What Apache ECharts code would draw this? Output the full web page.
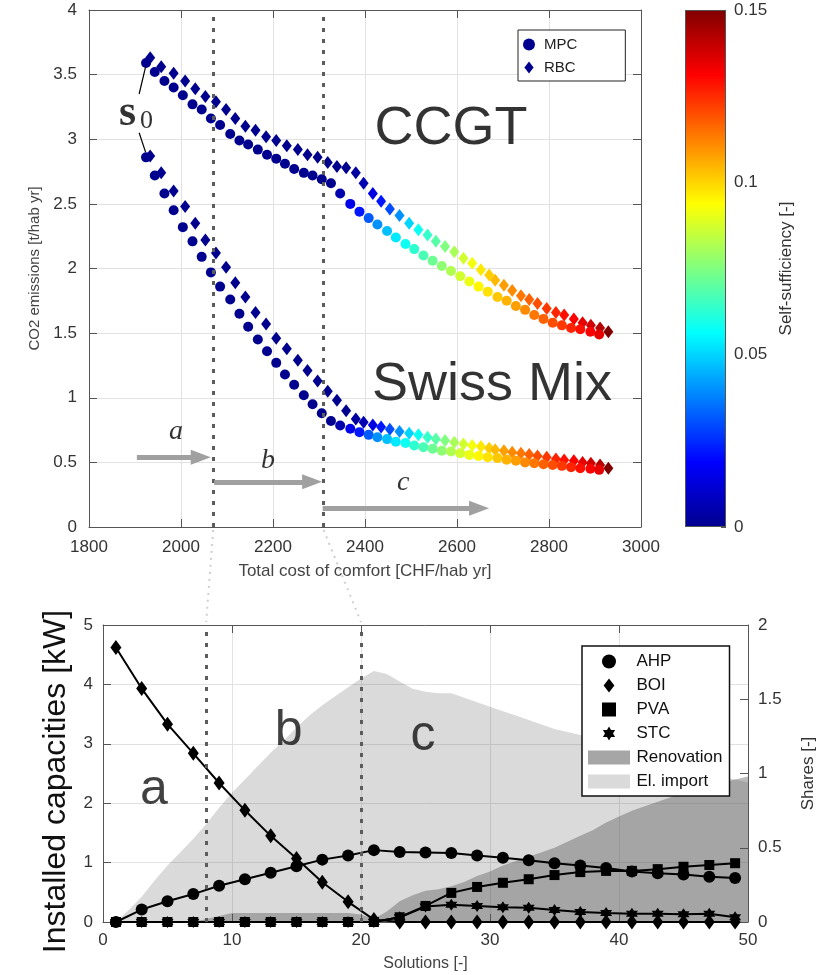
<!DOCTYPE html>
<html>
<head>
<meta charset="utf-8">
<title>Cost vs CO2 emissions and installed capacities</title>
<script src="https://cdn.jsdelivr.net/npm/echarts@6.0.0/dist/echarts.min.js"></script>
<style>
  html, body { margin: 0; padding: 0; background: #fff; }
  #main { width: 820px; height: 975px; }
</style>
</head>
<body>
<div id="main"></div>
<script>
// top panel: 50 solutions per controller, cost [CHF/hab yr] vs CO2 [t/hab yr]
const costMPC = [1924, 1943, 1964, 1984, 2004, 2025, 2045, 2065, 2085, 2107,
  2127, 2146, 2167, 2187, 2207, 2226, 2246, 2267, 2286, 2306,
  2326, 2346, 2368, 2388, 2408, 2427, 2448, 2467, 2488, 2507,
  2527, 2547, 2567, 2587, 2607, 2627, 2647, 2667, 2688, 2708,
  2728, 2748, 2768, 2788, 2808, 2828, 2848, 2868, 2890, 2909];
const costRBC = [1933, 1957, 1984, 2009, 2031, 2053, 2076, 2098, 2118, 2140,
  2162, 2185, 2207, 2230, 2254, 2275, 2297, 2319, 2339, 2359,
  2380, 2397, 2417, 2435, 2454, 2475, 2496, 2516, 2536, 2554,
  2574, 2594, 2614, 2633, 2652, 2670, 2683, 2702, 2720, 2739,
  2757, 2775, 2795, 2815, 2833, 2854, 2873, 2891, 2911, 2929];
const ccgtMPC = [3.59, 3.52, 3.45, 3.40, 3.34, 3.27, 3.23, 3.16, 3.11, 3.04,
  2.99, 2.96, 2.92, 2.88, 2.85, 2.81, 2.77, 2.74, 2.72, 2.69,
  2.66, 2.58, 2.50, 2.44, 2.39, 2.34, 2.29, 2.24, 2.19, 2.15,
  2.10, 2.06, 2.02, 1.98, 1.94, 1.90, 1.86, 1.82, 1.78, 1.75,
  1.71, 1.68, 1.64, 1.61, 1.58, 1.56, 1.54, 1.53, 1.51, 1.49];
const ccgtRBC = [3.63, 3.56, 3.51, 3.45, 3.39, 3.33, 3.29, 3.23, 3.16, 3.10,
  3.07, 3.02, 2.99, 2.95, 2.92, 2.88, 2.86, 2.82, 2.79, 2.78,
  2.74, 2.66, 2.58, 2.52, 2.46, 2.41, 2.35, 2.30, 2.26, 2.21,
  2.17, 2.13, 2.08, 2.04, 1.99, 1.95, 1.91, 1.87, 1.83, 1.79,
  1.76, 1.73, 1.69, 1.66, 1.64, 1.61, 1.58, 1.56, 1.54, 1.51];
const swissMPC = [2.86, 2.72, 2.58, 2.45, 2.32, 2.21, 2.09, 1.97, 1.86, 1.76,
  1.65, 1.55, 1.45, 1.36, 1.27, 1.18, 1.10, 1.02, 0.95, 0.88,
  0.82, 0.785, 0.76, 0.734, 0.713, 0.695, 0.68, 0.66, 0.65, 0.63,
  0.617, 0.605, 0.59, 0.584, 0.571, 0.558, 0.55, 0.54, 0.533, 0.52,
  0.512, 0.50, 0.494, 0.486, 0.48, 0.473, 0.463, 0.455, 0.45, 0.442];
const swissRBC = [2.87, 2.74, 2.60, 2.48, 2.35, 2.22, 2.12, 2.01, 1.89, 1.78,
  1.66, 1.57, 1.46, 1.38, 1.29, 1.21, 1.13, 1.05, 0.98, 0.90,
  0.835, 0.81, 0.79, 0.773, 0.757, 0.739, 0.726, 0.713, 0.695, 0.68,
  0.669, 0.656, 0.643, 0.63, 0.622, 0.61, 0.597, 0.589, 0.579, 0.571,
  0.56, 0.55, 0.54, 0.527, 0.519, 0.512, 0.50, 0.494, 0.48, 0.455];
// self-sufficiency [-] -> jet colour
const selfSuffMPC = [0, 0, 0, 0, 0, 0, 0, 0, 0, 0,
  0, 0, 0, 0, 0, 0, 0, 0, 0, 0,
  0, 0.005, 0.015, 0.022, 0.032, 0.04, 0.047, 0.053, 0.058, 0.063,
  0.067, 0.072, 0.077, 0.082, 0.087, 0.091, 0.095, 0.098, 0.102, 0.105,
  0.108, 0.111, 0.114, 0.117, 0.12, 0.123, 0.126, 0.129, 0.132, 0.135];
const selfSuffRBC = [0, 0, 0, 0, 0, 0, 0, 0, 0, 0,
  0, 0, 0, 0, 0, 0, 0, 0, 0, 0,
  0.003, 0.006, 0.014, 0.022, 0.03, 0.04, 0.05, 0.058, 0.064, 0.069,
  0.075, 0.081, 0.087, 0.092, 0.097, 0.101, 0.104, 0.108, 0.111, 0.114,
  0.117, 0.12, 0.123, 0.126, 0.129, 0.132, 0.135, 0.138, 0.142, 0.15];

// bottom panel: installed capacities [kW] (every 2nd solution) and shares [-]
const solMarked = [1, 3, 5, 7, 9, 11, 13, 15, 17, 19, 21, 23, 25, 27, 29, 31, 33, 35, 37, 39, 41, 43, 45, 47, 49];
const capAHP = [0, 0.21, 0.35, 0.47, 0.61, 0.72, 0.83, 0.94, 1.05, 1.12, 1.21, 1.18, 1.17,
  1.16, 1.12, 1.08, 1.04, 0.99, 0.95, 0.91, 0.85, 0.82, 0.80, 0.76, 0.74];
const capBOI = [4.62, 3.93, 3.33, 2.84, 2.34, 1.88, 1.45, 1.07, 0.67, 0.34, 0.04, 0, 0,
  0, 0, 0, 0, 0, 0, 0, 0, 0, 0, 0, 0];
const capPVA = [0, 0, 0, 0, 0, 0, 0, 0, 0, 0, 0, 0.08, 0.27,
  0.49, 0.59, 0.66, 0.72, 0.79, 0.84, 0.86, 0.86, 0.89, 0.93, 0.96, 0.99];
const capSTC = [0, 0, 0, 0, 0, 0, 0, 0, 0, 0, 0, 0.08, 0.26,
  0.29, 0.27, 0.25, 0.24, 0.2, 0.17, 0.15, 0.14, 0.14, 0.13, 0.14, 0.08];
const solAll = [1, 2, 3, 4, 5, 6, 7, 8, 9, 10, 11, 12, 13, 14, 15, 16, 17, 18, 19, 20, 21, 22, 23, 24, 25,
  26, 27, 28, 29, 30, 31, 32, 33, 34, 35, 36, 37, 38, 39, 40, 41, 42, 43, 44, 45, 46, 47, 48, 49, 50];
const shareImport = [0, 0.08, 0.17, 0.28, 0.38, 0.47, 0.56, 0.66, 0.77, 0.87,
  0.96, 1.05, 1.14, 1.22, 1.31, 1.39, 1.46, 1.52, 1.58, 1.64,
  1.69, 1.67, 1.62, 1.57, 1.55, 1.54, 1.54, 1.51, 1.48, 1.45,
  1.42, 1.39, 1.36, 1.33, 1.30, 1.28, 1.26, 1.23, 1.21, 1.18,
  1.15, 1.13, 1.10, 1.08, 1.05, 1.03, 1.00, 0.98, 0.96, 0.94];
const shareRenovation = [0, 0, 0, 0, 0, 0, 0, 0.02, 0.04, 0.06,
  0.06, 0.06, 0.06, 0.06, 0.06, 0.06, 0.06, 0.06, 0.06, 0.05,
  0.02, 0.07, 0.14, 0.18, 0.21, 0.22, 0.24, 0.27, 0.31, 0.34,
  0.38, 0.41, 0.44, 0.47, 0.50, 0.54, 0.58, 0.62, 0.67, 0.71,
  0.75, 0.78, 0.81, 0.84, 0.87, 0.89, 0.91, 0.94, 0.96, 0.98];

const font = "'Liberation Sans', Arial, Helvetica, sans-serif";
const serif = "'Liberation Serif', 'DejaVu Serif', serif";
const jet = ['#00008f', '#0000ff', '#0080ff', '#00ffff', '#80ff80', '#ffff00', '#ff8000', '#ff0000', '#800000'];
const navy = '#00008f';
const axisCol = '#555';
const textCol = '#333';
const starPath = 'path://M100,0L128.9,50L186.6,50L157.7,100L186.6,150L128.9,150L100,200L71.1,150L13.4,150L42.3,100L13.4,50L71.1,50Z';
const diamondPath = 'path://M5,0L10,6.5L5,13L0,6.5Z';
const squarePath = 'path://M0,0H1V1H0Z';
const boxPath = 'path://M0,0H3V1H0Z';

const zip3 = (xs, ys, cs) => xs.map((x, i) => [x, ys[i], cs[i]]);
const zip2 = (xs, ys) => xs.map((x, i) => [x, ys[i]]);

// 基本的坐标轴样式
function valueAxis(extra) {
  return Object.assign({
    type: 'value',
    axisLine: { show: true, onZero: false, lineStyle: { color: axisCol, width: 1 } },
    axisTick: { show: true, inside: true, length: 8, lineStyle: { color: axisCol } },
    axisLabel: { color: textCol, fontSize: 17, fontFamily: font },
    splitLine: { show: false },
    nameTextStyle: { color: textCol, fontFamily: font }
  }, extra);
}
const grey = { show: true, lineStyle: { color: '#e2e2e2', width: 1 } };
const dotted = { type: [4, 7], width: 3, color: '#5c5c5c', cap: 'butt' };
const arrowLine = { type: 'solid', width: 5, color: '#a0a0a0' };
const thin = { type: 'solid', width: 1.2, color: '#000' };
const plain = v => String(v);

function arrow(x0, x1, y) {
  return [
    { coord: [x0, y], symbol: 'none', lineStyle: arrowLine },
    { coord: [x1, y], symbol: 'triangle', symbolSize: [15, 20], lineStyle: arrowLine }
  ];
}

const chart = echarts.init(document.getElementById('main'));

const option = {
  animation: false,
  backgroundColor: '#fff',
  textStyle: { fontFamily: font },
  grid: [
    { left: 89, top: 10, width: 552, height: 517, outerBoundsMode: 'none' },
    { left: 103, top: 625, width: 645, height: 297, outerBoundsMode: 'none' },
    { left: 685, top: 10, width: 41, height: 517, outerBoundsMode: 'none' }
  ],
  xAxis: [
    valueAxis({ gridIndex: 0, min: 1800, max: 3000, interval: 200, splitLine: grey,
      axisLabel: { color: textCol, fontSize: 17, margin: 12, formatter: plain },
      name: 'Total cost of comfort [CHF/hab yr]', nameLocation: 'middle', nameGap: 36,
      nameTextStyle: { color: '#444', fontSize: 17 } }),
    valueAxis({ gridIndex: 0, position: 'top', min: 1800, max: 3000, interval: 200, axisLabel: { show: false } }),
    valueAxis({ gridIndex: 1, min: 0, max: 50, interval: 10, splitLine: grey,
      axisLabel: { color: textCol, fontSize: 17, margin: 10 },
      name: 'Solutions [-]', nameLocation: 'middle', nameGap: 34,
      nameTextStyle: { color: '#444', fontSize: 16 } }),
    valueAxis({ gridIndex: 1, position: 'top', min: 0, max: 50, interval: 10, axisLabel: { show: false } }),
    { type: 'category', gridIndex: 2, data: ['cb'], show: false }
  ],
  yAxis: [
    valueAxis({ gridIndex: 0, min: 0, max: 4, interval: 0.5, splitLine: grey,
      axisLabel: { color: textCol, fontSize: 17, margin: 12 },
      name: 'CO2 emissions [t/hab yr]', nameLocation: 'middle', nameGap: 44, nameRotate: 90,
      nameTextStyle: { color: '#444', fontSize: 15 } }),
    valueAxis({ gridIndex: 0, position: 'right', min: 0, max: 4, interval: 0.5, axisLabel: { show: false } }),
    valueAxis({ gridIndex: 1, min: 0, max: 5, interval: 1, splitLine: grey,
      axisLabel: { color: textCol, fontSize: 17, margin: 10 },
      name: 'Installed capacities [kW]', nameLocation: 'middle', nameGap: 28, nameRotate: 90,
      nameTextStyle: { color: '#111', fontSize: 32, padding: [0, 16, 0, 0] } }),
    valueAxis({ gridIndex: 1, position: 'right', min: 0, max: 2, interval: 0.5,
      axisLabel: { color: textCol, fontSize: 17, margin: 10 },
      name: 'Shares [-]', nameLocation: 'middle', nameGap: 52, nameRotate: 90,
      nameTextStyle: { color: '#333', fontSize: 17 } }),
    valueAxis({ gridIndex: 2, position: 'right', min: 0, max: 0.15, interval: 0.05,
      axisLine: { show: false },
      axisTick: { show: true, inside: true, length: 5, lineStyle: { color: axisCol } },
      axisLabel: { color: textCol, fontSize: 17, margin: 8, formatter: v => String(+v.toFixed(2)) },
      name: 'Self-sufficiency [-]', nameLocation: 'middle', nameGap: 52, nameRotate: 90,
      nameTextStyle: { color: '#333', fontSize: 17 } })
  ],
  visualMap: {
    type: 'continuous', show: false, min: 0, max: 0.15, dimension: 2,
    seriesIndex: [0, 1, 2, 3], inRange: { color: jet }
  },
  legend: [
    {
      data: [
        { name: 'MPC', icon: 'circle', itemStyle: { color: navy } },
        { name: 'RBC', icon: diamondPath, itemStyle: { color: navy } }
      ],
      orient: 'vertical', left: 518, top: 30, itemWidth: 20, itemHeight: 12, itemGap: 8,
      padding: [7, 48, 6, 5], borderColor: '#222', borderWidth: 1, backgroundColor: '#fff',
      selectedMode: false, textStyle: { fontSize: 15, color: '#222' }
    },
    {
      data: [
        { name: 'AHP', icon: 'circle', itemStyle: { color: '#000' } },
        { name: 'BOI', icon: diamondPath, itemStyle: { color: '#000' } },
        { name: 'PVA', icon: squarePath, itemStyle: { color: '#000' } },
        { name: 'STC', icon: starPath, itemStyle: { color: '#000' } },
        { name: 'Renovation', icon: boxPath, itemStyle: { color: '#a6a6a6' } },
        { name: 'El. import', icon: boxPath, itemStyle: { color: '#dadada' } }
      ],
      orient: 'vertical', left: 582, top: 646, itemWidth: 45, itemHeight: 14, itemGap: 7,
      padding: [7, 7, 6, 6], borderColor: '#111', borderWidth: 1.5, backgroundColor: '#fff',
      selectedMode: false, textStyle: { fontSize: 17, color: '#111' }, z: 10
    }
  ],
  series: [
    // top panel markers (RBC first so MPC circles sit on top)
    { name: 'RBC', type: 'scatter', xAxisIndex: 0, yAxisIndex: 0, symbol: 'diamond', symbolSize: [10, 13],
      itemStyle: { color: navy, opacity: 1 }, data: zip3(costRBC, ccgtRBC, selfSuffRBC) },
    { name: 'RBC', type: 'scatter', xAxisIndex: 0, yAxisIndex: 0, symbol: 'diamond', symbolSize: [10, 13],
      itemStyle: { color: navy, opacity: 1 }, data: zip3(costRBC, swissRBC, selfSuffRBC) },
    { name: 'MPC', type: 'scatter', xAxisIndex: 0, yAxisIndex: 0, symbol: 'circle', symbolSize: 10,
      itemStyle: { color: navy, opacity: 1 }, data: zip3(costMPC, ccgtMPC, selfSuffMPC) },
    { name: 'MPC', type: 'scatter', xAxisIndex: 0, yAxisIndex: 0, symbol: 'circle', symbolSize: 10,
      itemStyle: { color: navy, opacity: 1 }, data: zip3(costMPC, swissMPC, selfSuffMPC) },
    // top panel annotations
    { type: 'scatter', xAxisIndex: 0, yAxisIndex: 0, symbolSize: 1, silent: true, z: 6,
      itemStyle: { color: 'rgba(0,0,0,0)' },
      label: { show: true, position: 'inside', formatter: '{b}', color: '#000' },
      data: [
        { name: 'CCGT', value: [2587, 3.08], label: { fontSize: 54 } },
        { name: 'Swiss Mix', value: [2676, 1.10], label: { fontSize: 54 } },
        { name: 'a', value: [1989, 0.74], label: { fontSize: 28, fontStyle: 'italic', fontFamily: serif } },
        { name: 'b', value: [2189, 0.51], label: { fontSize: 28, fontStyle: 'italic', fontFamily: serif } },
        { name: 'c', value: [2483, 0.34], label: { fontSize: 28, fontStyle: 'italic', fontFamily: serif } },
        { name: 's', value: [1884, 3.20], label: { fontSize: 44, fontWeight: 'bold', fontFamily: serif } },
        { name: '0', value: [1925, 3.14], label: { fontSize: 26, fontFamily: serif } }
      ],
      markLine: {
        silent: true, symbol: ['none', 'none'], label: { show: false }, z: 5,
        data: [
          { xAxis: 2070, lineStyle: dotted },
          { xAxis: 2310, lineStyle: dotted },
          arrow(1904, 2043, 0.54),
          arrow(2072, 2285, 0.35),
          arrow(2308, 2648, 0.145),
          [{ coord: [1923, 3.56], lineStyle: thin }, { coord: [1909, 3.35], lineStyle: thin }],
          [{ coord: [1909, 3.05], lineStyle: thin }, { coord: [1923, 2.90], lineStyle: thin }]
        ]
      }
    },
    // colour bar
    { type: 'bar', xAxisIndex: 4, yAxisIndex: 4, barWidth: '100%', silent: true, data: [0.15],
      itemStyle: {
        borderColor: axisCol, borderWidth: 1,
        color: { type: 'linear', x: 0, y: 1, x2: 0, y2: 0,
          colorStops: jet.map((c, i) => ({ offset: i / (jet.length - 1), color: c })) }
      } },
    // bottom panel capacities
    { name: 'AHP', type: 'line', xAxisIndex: 2, yAxisIndex: 2, symbol: 'circle', symbolSize: 12, clip: false,
      itemStyle: { color: '#000' }, lineStyle: { color: '#000', width: 2 }, data: zip2(solMarked, capAHP) },
    { name: 'BOI', type: 'line', xAxisIndex: 2, yAxisIndex: 2, symbol: 'diamond', symbolSize: [11, 15], clip: false,
      itemStyle: { color: '#000' }, lineStyle: { color: '#000', width: 2 }, data: zip2(solMarked, capBOI) },
    { name: 'PVA', type: 'line', xAxisIndex: 2, yAxisIndex: 2, symbol: 'rect', symbolSize: 10, clip: false,
      itemStyle: { color: '#000' }, lineStyle: { color: '#000', width: 2 }, data: zip2(solMarked, capPVA) },
    { name: 'STC', type: 'line', xAxisIndex: 2, yAxisIndex: 2, symbol: starPath, symbolSize: 12, clip: false,
      itemStyle: { color: '#000' }, lineStyle: { color: '#000', width: 2 }, data: zip2(solMarked, capSTC) },
    // shares: translucent grey areas laid over the capacity lines
    { name: 'El. import', type: 'line', xAxisIndex: 2, yAxisIndex: 3, symbol: 'none', z: 3, silent: true,
      lineStyle: { width: 0 }, itemStyle: { color: '#dadada' },
      areaStyle: { color: 'rgba(54,54,54,0.184)', opacity: 1 }, data: zip2(solAll, shareImport) },
    { name: 'Renovation', type: 'line', xAxisIndex: 2, yAxisIndex: 3, symbol: 'none', z: 3, silent: true,
      lineStyle: { width: 0 }, itemStyle: { color: '#a6a6a6' },
      areaStyle: { color: 'rgba(90,90,90,0.413)', opacity: 1 }, data: zip2(solAll, shareRenovation) },
    // bottom panel annotations
    { type: 'scatter', xAxisIndex: 2, yAxisIndex: 2, symbolSize: 1, silent: true, z: 6,
      itemStyle: { color: 'rgba(0,0,0,0)' },
      label: { show: true, position: 'inside', formatter: '{b}', color: '#111', fontSize: 50 },
      data: [
        { name: 'a', value: [3.95, 2.22] },
        { name: 'b', value: [14.4, 3.22] },
        { name: 'c', value: [24.8, 3.13] }
      ],
      markLine: {
        silent: true, symbol: ['none', 'none'], label: { show: false }, z: 5,
        data: [
          { xAxis: 8, lineStyle: dotted },
          { xAxis: 20, lineStyle: dotted }
        ]
      }
    }
  ]
};

chart.setOption(option);

// faint dotted connectors between the two panels
const links = [[2070, 8], [2310, 20]].map(([c, s]) => {
  const a = chart.convertToPixel({ xAxisIndex: 0, yAxisIndex: 0 }, [c, 0]);
  const b = chart.convertToPixel({ xAxisIndex: 2, yAxisIndex: 2 }, [s, 5]);
  return {
    type: 'line', silent: true, z: 1,
    shape: { x1: a[0], y1: a[1] + 3, x2: b[0], y2: b[1] - 3 },
    style: { stroke: '#cfcfcf', lineWidth: 2, lineDash: [2, 5] }
  };
});
chart.setOption({ graphic: links });
</script>
</body>
</html>
